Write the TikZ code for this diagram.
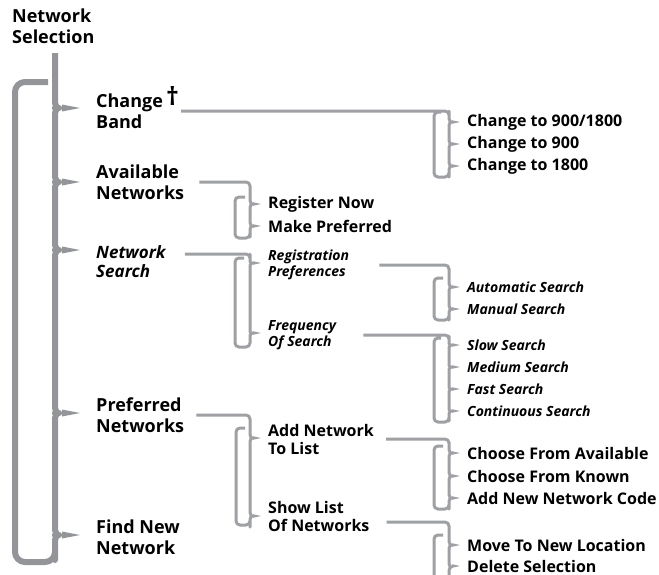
\documentclass[tikz,border=0pt]{standalone}
\usepackage{fontspec}
\setmainfont{Open Sans}
\usepackage{tikz}
\definecolor{spinegray}{HTML}{939598}
\definecolor{branchgray}{HTML}{9EA0A3}

\begin{document}
\begin{tikzpicture}[
  x=1pt, y=-1pt,
  top/.style={font=\fontsize{18}{21}\selectfont\bfseries, align=left,
              inner xsep=2pt, inner ysep=0pt, anchor=west, text=black},
  topit/.style={top, font=\fontsize{17}{19}\selectfont\bfseries\itshape},
  sub/.style={top, font=\fontsize{16}{18}\selectfont\bfseries},
  subit/.style={top, font=\fontsize{14}{16}\selectfont\bfseries\itshape},
  spine/.style={draw=spinegray, line width=6pt, rounded corners=10pt, line join=round},
  branch/.style={draw=branchgray, line width=3pt, rounded corners=4pt, line join=round},
  bigtip/.style={fill=spinegray},
  smalltip/.style={fill=branchgray}
]
\useasboundingbox (0,0) rectangle (659,574);

\node[top, anchor=north west] (title) at (10,9) {Network\\Selection};

% first level
\node[top] (band) at (94,111) {Change\smash{\,\raisebox{2pt}{\fontsize{25}{25}\selectfont †}}\\Band};
\node[top] (avail) at (94,182) {Available\\Networks};
\node[topit] (search) at (94,262) {Network\\Search};
\node[top] (pref) at (94,415) {Preferred\\Networks};
\node[top] (findnew) at (94,537) {Find New\\Network};

\draw[spine] (55,53) foreach \y in {108,182,250,413,535} {
    -- (55,\y-15) .. controls (55,\y-4) and (58,\y) .. (65,\y)
       .. controls (58,\y) and (55,\y+4) .. (55,\y+15)}
  -- (55,562) -- (15,562) -- (15,82) -- (48,82);
\foreach \y in {108,182,250,413,535}
  \fill[bigtip] (62,\y-3.5) -- (80,\y) -- (62,\y+3.5) -- cycle;

% second level
\node[sub] (regnow) at (266,204) {Register Now};
\node[sub] (makepref) at (266,226) {Make Preferred};
\node[subit] (regpref) at (266,265) {Registration\\Preferences};
\node[subit] (freq) at (266,335) {Frequency\\Of Search};
\node[sub] (addnet) at (266,439) {Add Network\\To List};
\node[sub] (showlist) at (266,516) {Show List\\Of Networks};

\draw[branch] ([xshift=13pt]avail.east) -- (250,182) foreach \y in {204,226} {
    -- (250,\y-7) to[out=-90,in=180] (255,\y) to[out=180,in=90] (250,\y+7)}
  -- (250,238) -- (235,238) -- (235,197) -- (245,197);
\draw[branch] ([xshift=17pt,yshift=8pt]search.east) -- (250,254) foreach \y in {263,333} {
    -- (250,\y-5) to[out=-90,in=180] (255,\y) to[out=180,in=90] (250,\y+6)}
  -- (250,347) -- (235,347) -- (235,258) -- (244,258);
\draw[branch] ([xshift=10pt]pref.east) -- (250,415) foreach \y in {438,516} {
    -- (250,\y-7) to[out=-90,in=180] (255,\y) to[out=180,in=90] (250,\y+7)}
  -- (250,525) -- (236,525) -- (236,428) -- (245,428);
\foreach \y in {204,226,263,333,438,516}
  \fill[smalltip] (253,\y-1.8) -- (261,\y) -- (253,\y+1.8) -- cycle;

% third level
\draw[branch] (band.east) -- (449,111) foreach \y in {122,144,166} {
    -- (449,\y-7) to[out=-90,in=180] (454,\y) to[out=180,in=90] (449,\y+7)}
  -- (449,177) -- (434,177) -- (434,112) -- (441,112);
\draw[branch] ([xshift=28pt]regpref.east) -- (449,265) foreach \y in {287,309} {
    -- (449,\y-7) to[out=-90,in=180] (454,\y) to[out=180,in=90] (449,\y+7)}
  -- (449,320) -- (434,320) -- (434,278) -- (443,278);
\draw[branch] ([xshift=25pt]freq.east) -- (449,335) foreach \y in {345,367,389,411} {
    -- (449,\y-5) to[out=-90,in=180] (454,\y) to[out=180,in=90] (449,\y+6)}
  -- (449,422) -- (434,422) -- (434,338) -- (441,338);
\draw[branch] ([xshift=10pt]addnet.east) -- (449,439) foreach \y in {453,476,498} {
    -- (449,\y-7) to[out=-90,in=180] (454,\y) to[out=180,in=90] (449,\y+7)}
  -- (449,509) -- (434,509) -- (434,446) -- (443,446);
\draw[branch] ([xshift=15pt,yshift=-6pt]showlist.east) -- (449,522) foreach \y in {545,567} {
    -- (449,\y-7) to[out=-90,in=180] (454,\y) to[out=180,in=90] (449,\y+7)}
  -- (449,600) -- (434,600) -- (434,535) -- (443,535);

\foreach \y/\t in {122/{Change to 900/1800}, 144/{Change to 900}, 166/{Change to 1800},
                   453/{Choose From Available}, 476/{Choose From Known},
                   498/{Add New Network Code}, 545/{Move To New Location},
                   566/{Delete Selection}} {
  \fill[smalltip] (452,\y-1.8) -- (460,\y) -- (452,\y+1.8) -- cycle;
  \node[sub] (opt-\y) at (465,\y) {\t};
}
\foreach \y/\t in {287/{Automatic Search}, 309/{Manual Search}, 345/{Slow Search},
                   367/{Medium Search}, 389/{Fast Search}, 411/{Continuous Search}} {
  \fill[smalltip] (452,\y-1.8) -- (460,\y) -- (452,\y+1.8) -- cycle;
  \node[subit] (opt-\y) at (465,\y) {\t};
}

\end{tikzpicture}
\end{document}
